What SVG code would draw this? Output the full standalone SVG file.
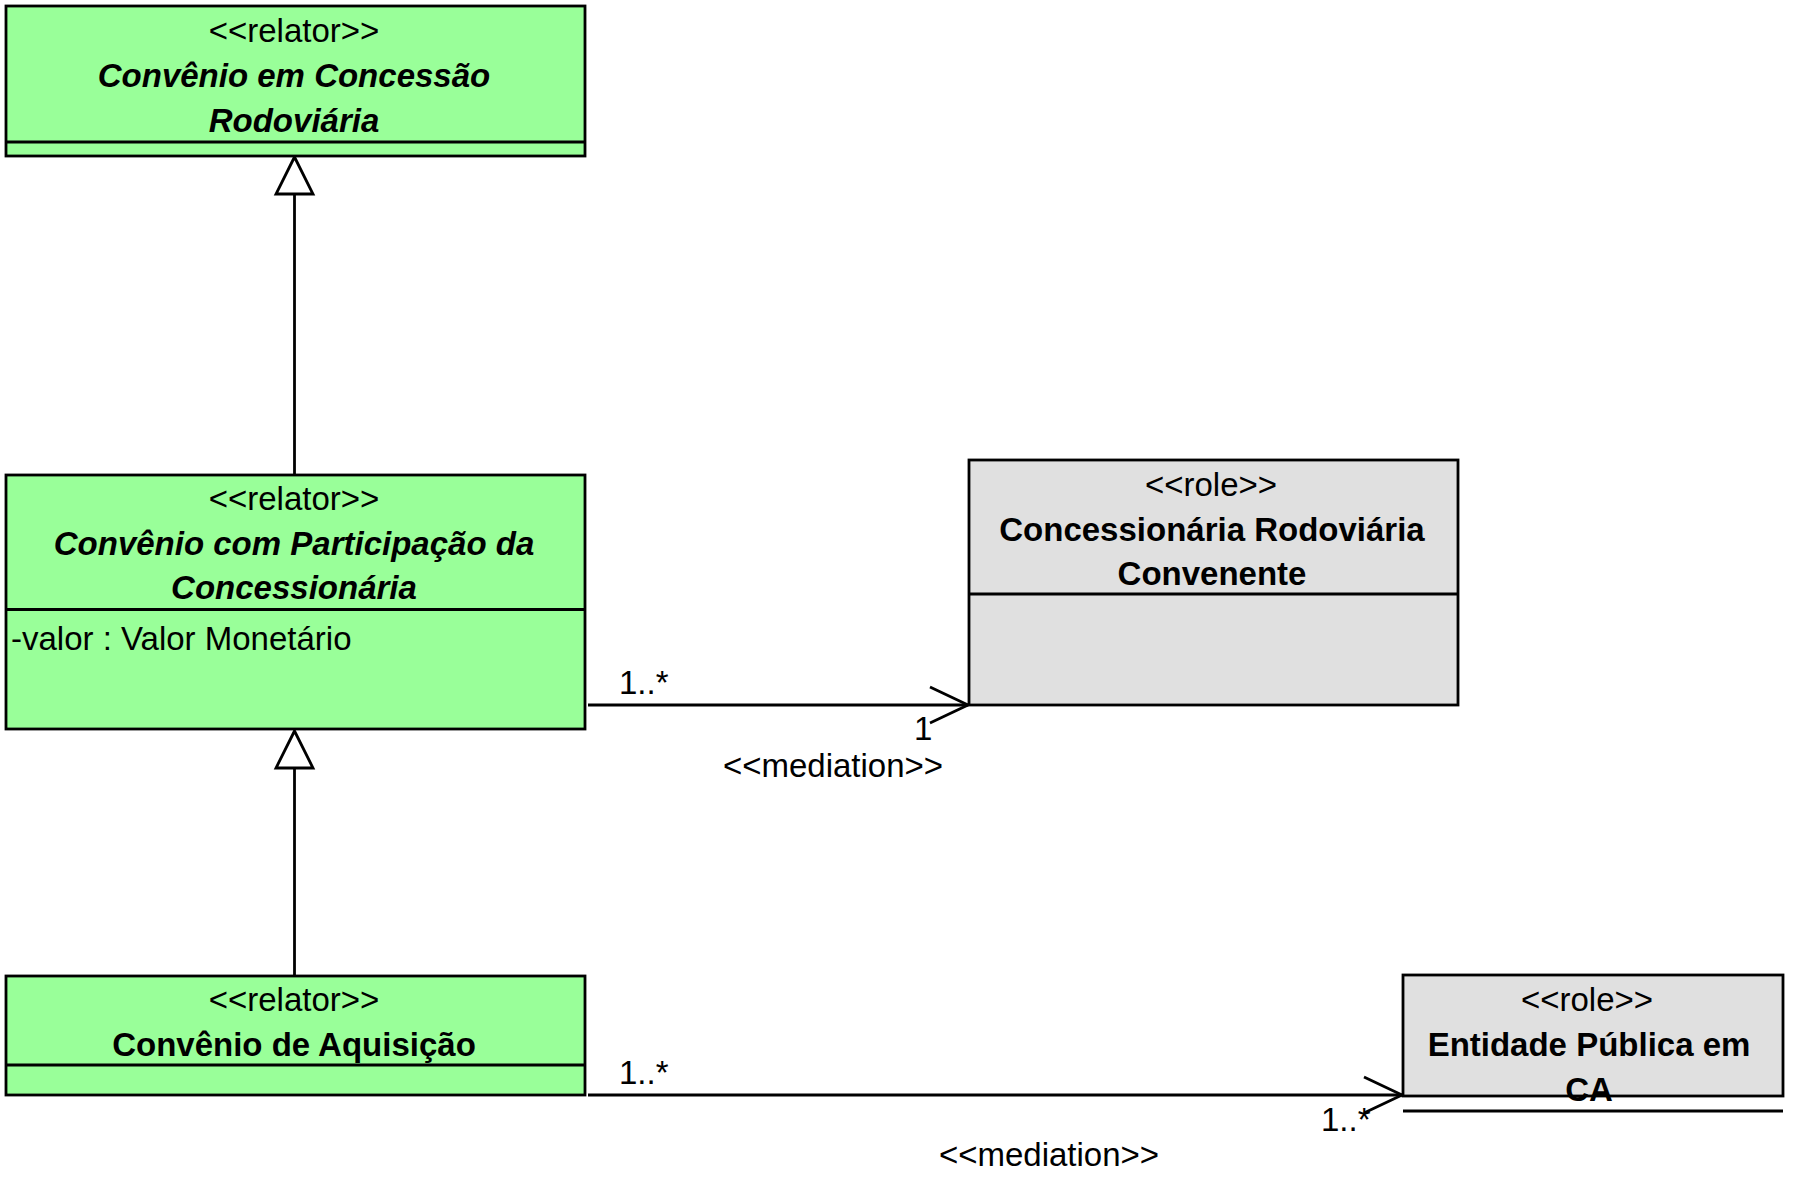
<svg xmlns="http://www.w3.org/2000/svg" width="1794" height="1191" viewBox="0 0 1794 1191">
<style>
  text { font-family: "Liberation Sans", Arial, sans-serif; font-size: 33px; fill: #000; }
  .c { text-anchor: middle; }
  .b { font-weight: bold; }
  .bi { font-weight: bold; font-style: italic; }
  .relator { fill: #99FF99; stroke: #000; stroke-width: 2.8; }
  .role { fill: #E0E0E0; stroke: #000; stroke-width: 2.8; }
  .div { stroke: #000; stroke-width: 2.8; fill: none; }
  .edge { stroke: #000; stroke-width: 2.8; fill: none; }
  .gen { stroke: #000; stroke-width: 2.8; fill: #fff; stroke-linejoin: miter; }
</style>
<rect width="1794" height="1191" fill="#fff"/>

<g id="connectors">
  <g id="gen1">
    <line class="edge" x1="294.5" y1="474" x2="294.5" y2="194"/>
    <polygon class="gen" points="294.5,157 276,194 313,194"/>
  </g>
  <g id="gen2">
    <line class="edge" x1="294.5" y1="975" x2="294.5" y2="768"/>
    <polygon class="gen" points="294.5,731 276,768 313,768"/>
  </g>
  <g id="med1">
    <line class="edge" x1="588" y1="705" x2="968" y2="705"/>
    <polyline class="edge" points="930,687 968,705 930,723"/>
    <text x="619" y="694">1..*</text>
    <text x="914" y="740">1</text>
    <text class="c" x="833" y="777">&lt;&lt;mediation&gt;&gt;</text>
  </g>
  <g id="med2">
    <line class="edge" x1="588" y1="1095" x2="1402" y2="1095"/>
    <polyline class="edge" points="1364,1077 1402,1095 1364,1113"/>
    <text x="619" y="1084">1..*</text>
    <text x="1321" y="1131">1..*</text>
    <text class="c" x="1049" y="1166">&lt;&lt;mediation&gt;&gt;</text>
  </g>
</g>

<g id="convenio-concessao-rodoviaria">
  <rect class="relator" x="6" y="6" width="579" height="150"/>
  <line class="div" x1="6" y1="142" x2="585" y2="142"/>
  <text class="c" x="294" y="42">&lt;&lt;relator&gt;&gt;</text>
  <text class="c bi" x="294" y="87">Convênio em Concessão</text>
  <text class="c bi" x="294" y="131.5">Rodoviária</text>
</g>

<g id="convenio-participacao">
  <rect class="relator" x="6" y="475" width="579" height="254"/>
  <line class="div" x1="6" y1="609.5" x2="585" y2="609.5"/>
  <text class="c" x="294" y="510">&lt;&lt;relator&gt;&gt;</text>
  <text class="c bi" x="294" y="555">Convênio com Participação da</text>
  <text class="c bi" x="294" y="599">Concessionária</text>
  <text x="11" y="650">-valor : Valor Monetário</text>
</g>

<g id="convenio-aquisicao">
  <rect class="relator" x="6" y="976" width="579" height="119"/>
  <line class="div" x1="6" y1="1065" x2="585" y2="1065"/>
  <text class="c" x="294" y="1011">&lt;&lt;relator&gt;&gt;</text>
  <text class="c b" x="294" y="1056">Convênio de Aquisição</text>
</g>

<g id="concessionaria-convenente">
  <rect class="role" x="969" y="460" width="489" height="245"/>
  <line class="div" x1="969" y1="594" x2="1458" y2="594"/>
  <text class="c" x="1211" y="496">&lt;&lt;role&gt;&gt;</text>
  <text class="c b" x="1212" y="541">Concessionária Rodoviária</text>
  <text class="c b" x="1212" y="585">Convenente</text>
</g>

<g id="entidade-publica-ca">
  <rect class="role" x="1403" y="975" width="380" height="121"/>
  <line class="div" x1="1403" y1="1111" x2="1783" y2="1111"/>
  <text class="c" x="1587" y="1011">&lt;&lt;role&gt;&gt;</text>
  <text class="c b" x="1589" y="1056">Entidade Pública em</text>
  <text class="c b" x="1589" y="1101">CA</text>
</g>
</svg>
